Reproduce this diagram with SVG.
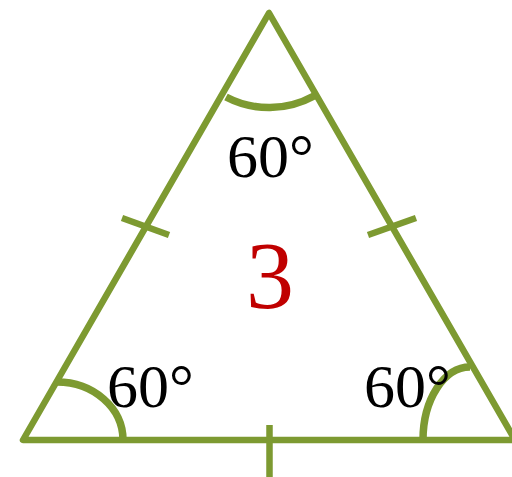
<svg xmlns="http://www.w3.org/2000/svg" width="512" height="477" viewBox="0 0 512 477">
<style>
.ln{fill:none;stroke:#7d9a31;stroke-width:6.5;stroke-linejoin:round;stroke-linecap:butt}
.arc{stroke-width:7.5}
.lbl{font-family:"Liberation Serif","Times New Roman",serif;font-size:62px;fill:#000}
.num{font-family:"Liberation Serif","Times New Roman",serif;font-size:96px;fill:#c00000}
</style>
<rect width="512" height="477" fill="#fff"/>
<g id="triangle">
<path class="ln" d="M269,13 L23,440 L515,440 Z"/>
</g>
<g id="marks">
<path class="ln arc" d="M226,97 A93,93 0 0 0 314,96"/>
<path class="ln arc" d="M57,382 A66,58 0 0 1 123,440"/>
<path class="ln arc" d="M423,440 A47,73 0 0 1 470,367"/>
<path class="ln" d="M122,218 L169,235"/>
<path class="ln" d="M368,235 L416,218"/>
<path class="ln" d="M269.5,425 L269.5,477"/>
</g>
<g id="labels">
<text class="lbl" x="227" y="177">60°</text>
<text class="lbl" x="107" y="407">60°</text>
<text class="lbl" x="364" y="407">60°</text>
<text class="num" x="270" y="308" text-anchor="middle">3</text>
</g>
</svg>
